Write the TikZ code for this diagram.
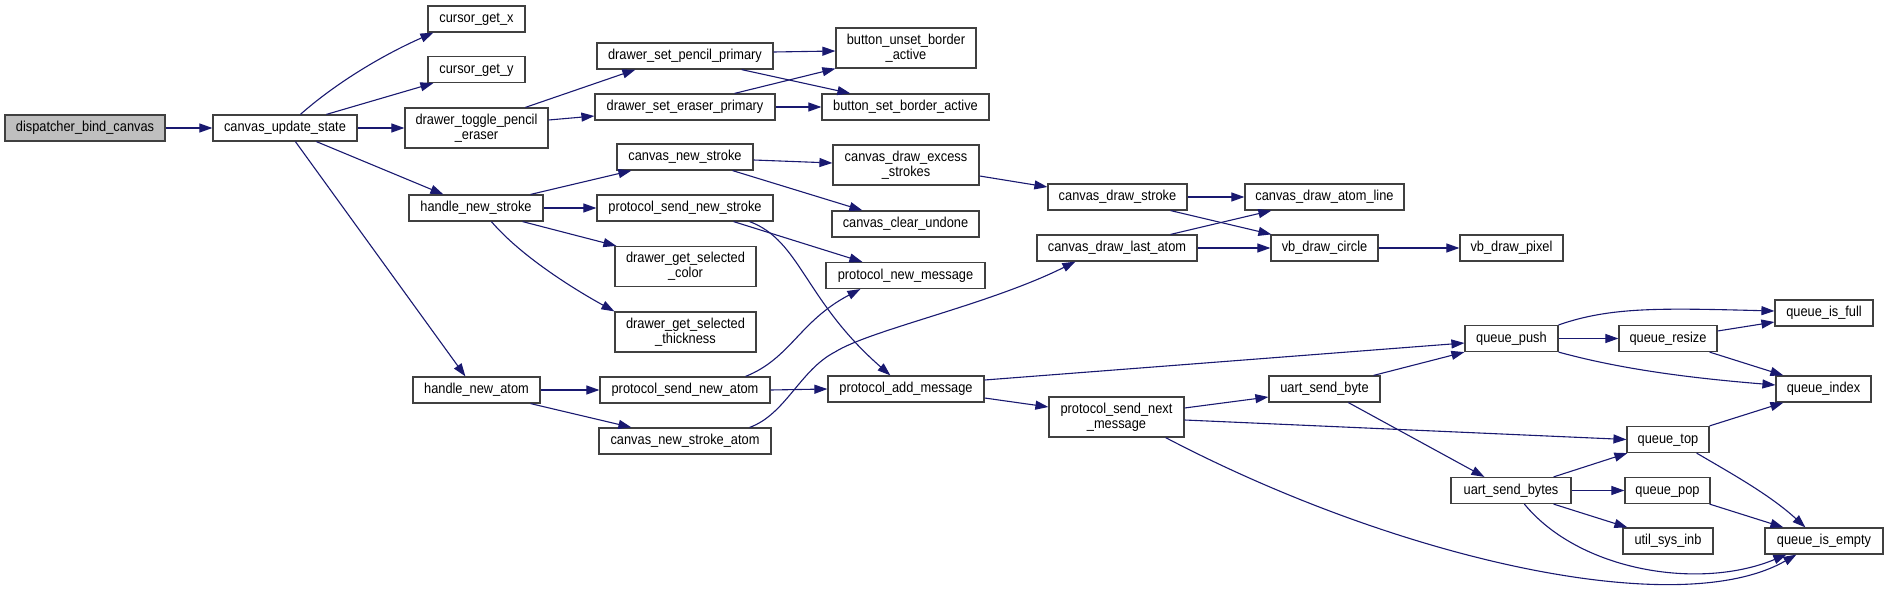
\documentclass[tikz,border=0pt]{standalone}
\usepackage{fontspec}
\setmainfont{Liberation Sans}[FakeStretch=0.89]
\usetikzlibrary{arrows.meta,calc}
\definecolor{edgeblue}{HTML}{191970}
\definecolor{boxline}{HTML}{404040}
\definecolor{rootfill}{HTML}{BFBFBF}
\begin{document}
\begin{tikzpicture}[x=1pt,y=-1pt,
  base/.style={draw=boxline, line width=1.2pt, fill=white, inner sep=0pt, font=\fontsize{14.4}{15}\selectfont},
  fn/.style={base, minimum height=26pt, text height=10.3pt, text depth=3pt},
  fntwo/.style={base, minimum height=40pt, align=center},
  root/.style={fn, fill=rootfill},
  e/.style={draw=edgeblue, line width=1.1pt, -{Triangle[length=13pt,width=9pt]}}]
\useasboundingbox (0,0) rectangle (1888,591);
% nodes
\node[root, minimum width=160pt] (dbc) at (85,128) {dispatcher\_bind\_canvas};
\node[fn, minimum width=144pt] (cus) at (285,128) {canvas\_update\_state};
\node[fn, minimum width=97pt] (cgx) at (476.5,19) {cursor\_get\_x};
\node[fn, minimum width=97pt] (cgy) at (476.5,69.5) {cursor\_get\_y};
\node[fntwo, minimum width=143pt] (dtpe) at (476.5,128) {drawer\_toggle\_pencil\\\_eraser};
\node[fn, minimum width=134pt] (hns) at (476,208) {handle\_new\_stroke};
\node[fn, minimum width=127pt] (hna) at (476.5,390) {handle\_new\_atom};
\node[fn, minimum width=176pt] (dspp) at (685,56) {drawer\_set\_pencil\_primary};
\node[fn, minimum width=180pt] (dsep) at (685,107) {drawer\_set\_eraser\_primary};
\node[fn, minimum width=136pt] (cns) at (685,157) {canvas\_new\_stroke};
\node[fn, minimum width=176pt] (psns) at (685,208) {protocol\_send\_new\_stroke};
\node[fntwo, minimum width=141pt] (dgsc) at (685.5,266.5) {drawer\_get\_selected\\\_color};
\node[fntwo, minimum width=141pt] (dgst) at (685.5,332) {drawer\_get\_selected\\\_thickness};
\node[fn, minimum width=170pt] (psna) at (685,390) {protocol\_send\_new\_atom};
\node[fn, minimum width=172pt] (cnsa) at (685,441) {canvas\_new\_stroke\_atom};
\node[fntwo, minimum width=140pt] (bubas) at (906,48) {button\_unset\_border\\\_active};
\node[fn, minimum width=167pt] (bsba) at (905.5,107) {button\_set\_border\_active};
\node[fntwo, minimum width=146pt] (cdes) at (906,165) {canvas\_draw\_excess\\\_strokes};
\node[fn, minimum width=147pt] (ccu) at (905.5,224) {canvas\_clear\_undone};
\node[fn, minimum width=159pt] (pnm) at (905.5,275.5) {protocol\_new\_message};
\node[fn, minimum width=156pt] (pam) at (906,389) {protocol\_add\_message};
\node[fn, minimum width=139pt] (cds) at (1117.5,197) {canvas\_draw\_stroke};
\node[fn, minimum width=160pt] (cdla) at (1117,248) {canvas\_draw\_last\_atom};
\node[fntwo, minimum width=135pt] (psnm) at (1116.5,417) {protocol\_send\_next\\\_message};
\node[fn, minimum width=159pt] (cdal) at (1324.5,197) {canvas\_draw\_atom\_line};
\node[fn, minimum width=107pt] (vbdc) at (1324.5,248) {vb\_draw\_circle};
\node[fn, minimum width=103pt] (vbdp) at (1511.5,248) {vb\_draw\_pixel};
\node[fn, minimum width=93pt] (qpush) at (1511.5,338.5) {queue\_push};
\node[fn, minimum width=111pt] (usb) at (1324.5,389) {uart\_send\_byte};
\node[fn, minimum width=120pt] (usbs) at (1511,490.5) {uart\_send\_bytes};
\node[fn, minimum width=98pt] (qresize) at (1668,338.5) {queue\_resize};
\node[fn, minimum width=82pt] (qtop) at (1668,439.5) {queue\_top};
\node[fn, minimum width=85pt] (qpop) at (1667.5,490.5) {queue\_pop};
\node[fn, minimum width=90pt] (usi) at (1668,541) {util\_sys\_inb};
\node[fn, minimum width=98pt] (qfull) at (1824,313) {queue\_is\_full};
\node[fn, minimum width=95pt] (qindex) at (1823.5,389) {queue\_index};
\node[fn, minimum width=118pt] (qempty) at (1824,541) {queue\_is\_empty};
\coordinate (m1) at (835,352);
% edges
\draw[e] (dbc.east) -- (cus.west);
\draw[e] ($(cus.north west)+(88,0)$) .. controls +(34,-30) and +(-54,24) .. ($(cgx.south west)+(6,0)$);
\draw[e] ($(cus.north west)+(114,0)$) -- ($(cgy.south west)+(6,0)$);
\draw[e] (cus.east) -- (dtpe.west);
\draw[e] ($(cus.south west)+(104,0)$) -- ($(hns.north west)+(35,0)$);
\draw[e] ($(cus.south west)+(83,0)$) -- ($(hna.north west)+(53,0)$);
\draw[e] ($(dtpe.north west)+(121,0)$) -- ($(dspp.south west)+(39,0)$);
\draw[e] ($(dtpe.east)+(0,-8)$) -- ($(dsep.west)+(0,9)$);
\draw[e] ($(hns.north east)+(-13,0)$) -- ($(cns.south west)+(15,0)$);
\draw[e] (hns.east) -- (psns.west);
\draw[e] ($(hns.south east)+(-21,0)$) -- ($(dgsc.north west)+(2,0)$);
\draw[e] ($(hns.south west)+(83,0)$) .. controls +(30,35) and +(-40,-22) .. (dgst.north west);
\draw[e] (hna.east) -- (psna.west);
\draw[e] ($(hna.south east)+(-10,0)$) -- ($(cnsa.north west)+(33,0)$);
\draw[e] ($(dspp.east)+(0,-4)$) -- ($(bubas.west)+(0,3)$);
\draw[e] ($(dspp.south east)+(-32,0)$) -- ($(bsba.north west)+(29,0)$);
\draw[e] ($(dsep.north east)+(-41,0)$) -- (bubas.south west);
\draw[e] (dsep.east) -- (bsba.west);
\draw[e] ($(cns.east)+(0,3)$) -- ($(cdes.west)+(0,-2)$);
\draw[e] ($(cns.south east)+(-21,0)$) -- ($(ccu.north west)+(31,0)$);
\draw[e] ($(psns.south east)+(-40,0)$) -- ($(pnm.north west)+(37,0)$);
\draw[e] ($(psns.south east)+(-24,0)$) .. controls +(51,19) and +(-86,-75) .. ($(pam.north west)+(63,0)$);
\draw[e] ($(cdes.east)+(0,11)$) -- ($(cds.west)+(0,-10)$);
\draw[e] (cds.east) -- (cdal.west);
\draw[e] ($(cds.south east)+(-17,0)$) -- ($(vbdc.north west)+(1,0)$);
\draw[e] ($(cdla.north east)+(-27,0)$) -- ($(cdal.south west)+(27,0)$);
\draw[e] (cdla.east) -- (vbdc.west);
\draw[e] (vbdc.east) -- (vbdp.west);
\draw[e] ($(psna.north east)+(-25,0)$) .. controls +(45,-18) and +(-61,32) .. ($(pnm.south west)+(35,0)$);
\draw[e] (psna.east) -- (pam.west);
\draw[e] ($(cnsa.north east)+(-22,0)$) .. controls +(36,-13) and +(-35,18) .. (m1) .. controls +(35,-22) and +(-86,43) .. ($(cdla.south west)+(39,0)$);
\draw[e] ($(pam.east)+(0,-9)$) -- ($(qpush.west)+(0,4.5)$);
\draw[e] ($(pam.east)+(0,9)$) -- ($(psnm.west)+(0,-10)$);
\draw[e] ($(psnm.east)+(0,-9)$) -- ($(usb.west)+(0,8)$);
\draw[e] ($(psnm.east)+(0,3)$) -- (qtop.west);
\draw[e] ($(psnm.south east)+(-19,0)$) .. controls +(235,123) and +(-117,67) .. ($(qempty.south west)+(32,0)$);
\draw[e] ($(usb.north east)+(-7,0)$) -- (qpush.south west);
\draw[e] ($(usb.south west)+(80,0)$) -- ($(usbs.north west)+(34,0)$);
\draw[e] (qpush.east) -- (qresize.west);
\draw[e] (qpush.north east) .. controls +(52,-18) and +(-115,-3) .. ($(qfull.west)+(0,-2)$);
\draw[e] (qpush.south east) .. controls +(62,17) and +(-86,-7) .. ($(qindex.west)+(0,-4)$);
\draw[e] ($(qresize.east)+(0,-7.5)$) -- ($(qfull.west)+(0,9)$);
\draw[e] ($(qresize.south east)+(-8,0)$) -- ($(qindex.north west)+(8,0)$);
\draw[e] (qtop.north east) -- ($(qindex.south west)+(8,0)$);
\draw[e] ($(qtop.south east)+(-13,0)$) .. controls +(34,20) and +(-36,-33) .. ($(qempty.north west)+(41,0)$);
\draw[e] ($(usbs.north east)+(-18,0)$) -- ($(qtop.south west)+(1,0)$);
\draw[e] (usbs.east) -- (qpop.west);
\draw[e] ($(usbs.south east)+(-18,0)$) -- ($(usi.north west)+(5,0)$);
\draw[e] ($(usbs.south west)+(74,0)$) .. controls +(55,67) and +(-87,36) .. ($(qempty.south west)+(22,0)$);
\draw[e] ($(qpop.south east)+(-1,0)$) -- ($(qempty.north west)+(19,0)$);
\end{tikzpicture}
\end{document}
